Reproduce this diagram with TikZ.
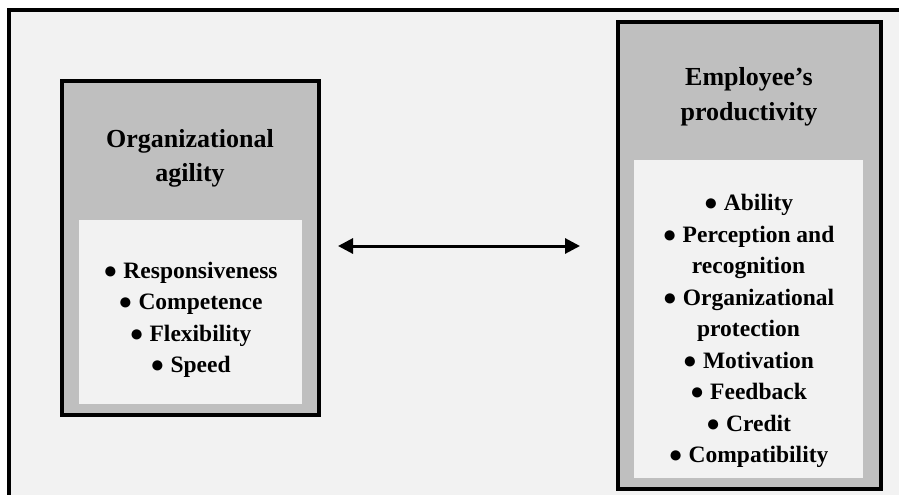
\documentclass[tikz,border=0pt]{standalone}
\usepackage{fontspec}
\setmainfont{Liberation Serif}
\usetikzlibrary{arrows.meta}
\definecolor{panelgray}{HTML}{F2F2F2}
\definecolor{boxgray}{HTML}{BFBFBF}
\begin{document}
\begin{tikzpicture}[x=1pt,y=-1pt,
    factor/.style={draw,line width=4pt,fill=boxgray,inner sep=0pt},
    listbox/.style={fill=panelgray,inner sep=0pt},
    heading/.style={anchor=base,align=center,inner sep=0pt,
      font=\fontsize{26}{34.5}\selectfont\bfseries},
    items/.style={anchor=base,align=center,inner sep=0pt,
      font=\fontsize{23.5}{31.5}\selectfont\bfseries},
    biarrow/.style={{Triangle[length=15pt,width=15pt]}-{Triangle[length=15pt,width=15pt]},line width=3pt}]
\useasboundingbox (0,0) rectangle (899,495);
% background panel, only top and left edges show
\fill[panelgray] (9,10) rectangle (899,495);
\draw[line width=3.5pt] (899,10) -- (9,10) -- (9,495);
% left factor
\node[factor,minimum width=256.7pt,minimum height=333.5pt] (agility) at (190.35,247.75) {};
\node[listbox,minimum width=223pt,minimum height=184pt] (agilitybox) at (190.5,312) {};
\node[heading] (agilityhead) at (190,181.5) {Organizational\\agility};
\node[items] (agilitylist) at (190.5,372.5) {● Responsiveness\\● Competence\\● Flexibility\\● Speed};
% right factor
\node[factor,minimum width=262.5pt,minimum height=467.3pt] (productivity) at (749.25,255.35) {};
\node[listbox,minimum width=228.7pt,minimum height=318.3pt] (productivitybox) at (748.35,319.15) {};
\node[heading] (productivityhead) at (749,120) {Employee’s\\productivity};
\node[items] (productivitylist) at (748.5,462.5) {● Ability\\● Perception and\\recognition\\● Organizational\\protection\\● Motivation\\● Feedback\\● Credit\\● Compatibility};
% relation
\coordinate (arrowL) at (338,246);
\coordinate (arrowR) at (580,246);
\draw[biarrow] (arrowL) -- (arrowR);
\end{tikzpicture}
\end{document}
